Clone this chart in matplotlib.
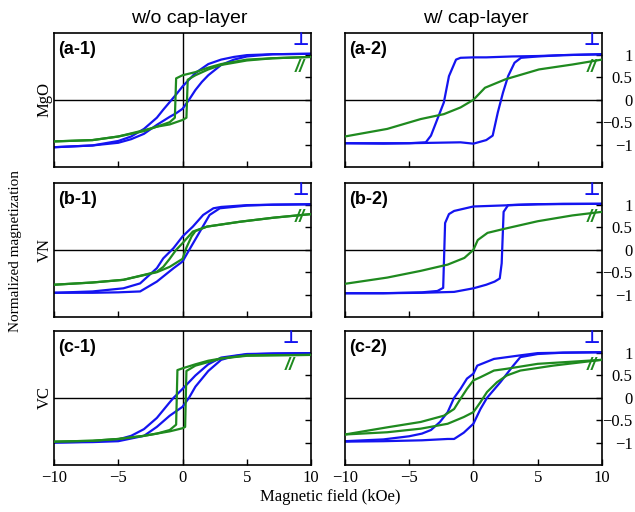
import matplotlib
matplotlib.use("Agg")
import matplotlib.pyplot as plt

BLUE = "#1414f0"
GREEN = "#1f8a1f"

# (a-1) MgO, w/o cap-layer
a1_blue_dn_h = [10, 7, 5, 4, 3, 2, 1, 0.5, 0, -0.5, -1, -1.5, -2, -3, -4, -5, -7, -10]
a1_blue_dn_m = [1.03, 1.02, 1.0, 0.96, 0.9, 0.8, 0.6, 0.45, 0.3, 0.12, -0.05, -0.22, -0.4, -0.65, -0.82, -0.92, -1.02, -1.06]
a1_blue_up_h = [-10, -7, -5, -4, -3, -2, -1, -0.5, 0, 0.5, 1, 1.5, 2, 3, 4, 5, 7, 10]
a1_blue_up_m = [-1.06, -1.02, -0.96, -0.88, -0.76, -0.56, -0.38, -0.3, -0.2, 0.0, 0.22, 0.4, 0.55, 0.78, 0.9, 0.97, 1.02, 1.03]
a1_green_dn_h = [10, 7, 5, 3, 2, 1, 0, -0.5, -0.6, -1, -2, -3, -5, -7, -10]
a1_green_dn_m = [0.96, 0.93, 0.9, 0.8, 0.72, 0.62, 0.55, 0.48, -0.4, -0.5, -0.6, -0.7, -0.82, -0.9, -0.93]
a1_green_up_h = [-10, -7, -5, -3, -2, -1, 0, 0.3, 0.4, 1, 2, 3, 5, 7, 10]
a1_green_up_m = [-0.93, -0.9, -0.82, -0.68, -0.6, -0.55, -0.45, -0.4, 0.45, 0.55, 0.68, 0.78, 0.88, 0.93, 0.96]

# (a-2) MgO, w/ cap-layer
a2_blue_dn_h = [10, 7, 5, 3, 1, 0, -1, -1.35, -1.9, -2.3, -2.8, -3.3, -3.7, -5, -7, -10]
a2_blue_dn_m = [1.02, 1.0, 0.98, 0.97, 0.95, 0.95, 0.94, 0.9, 0.53, -0.06, -0.43, -0.8, -0.95, -0.97, -0.97, -0.97]
a2_blue_up_h = [-10, -7, -5, -3, -1, 0, 1, 1.5, 1.9, 2.3, 2.7, 3.2, 3.7, 5, 7, 10]
a2_blue_up_m = [-0.97, -0.98, -0.97, -0.96, -0.95, -0.98, -0.9, -0.8, -0.28, 0.16, 0.53, 0.83, 0.94, 0.97, 1.0, 1.02]
a2_green_h = [-10, -6.7, -4.1, -2.3, -1, 0, 0.9, 2.5, 5.1, 7.7, 10]
a2_green_m = [-0.82, -0.65, -0.43, -0.32, -0.17, 0, 0.27, 0.46, 0.68, 0.79, 0.9]

# (b-1) VN, w/o cap-layer
b1_blue_dn_h = [10, 7, 5, 3, 2.4, 1.6, 0.8, 0, -0.7, -1.5, -2, -3.3, -4.6, -7, -10]
b1_blue_dn_m = [1.02, 1.01, 1.0, 0.96, 0.93, 0.78, 0.52, 0.3, 0.04, -0.19, -0.41, -0.75, -0.86, -0.93, -0.96]
b1_blue_up_h = [-10, -7, -5, -3.3, -2, -0.7, 0, 0.6, 1.35, 2.1, 2.9, 5, 7, 10]
b1_blue_up_m = [-0.96, -0.96, -0.95, -0.93, -0.71, -0.41, -0.26, 0.04, 0.41, 0.78, 0.93, 0.99, 1.01, 1.02]
b1_green_dn_h = [10, 7.1, 4.5, 1.9, 0.8, 0, -0.5, -1, -1.5, -2, -4.6, -7, -10]
b1_green_dn_m = [0.8, 0.72, 0.63, 0.52, 0.41, 0.15, 0.0, -0.2, -0.38, -0.49, -0.67, -0.73, -0.78]
b1_green_up_h = [-10, -7, -4.6, -2, -1.5, -1, 0, 0.3, 0.7, 1, 1.9, 4.5, 7.1, 10]
b1_green_up_m = [-0.78, -0.73, -0.67, -0.5, -0.44, -0.38, -0.2, 0.05, 0.3, 0.42, 0.52, 0.63, 0.72, 0.8]

# (b-2) VN, w/ cap-layer
b2_blue_dn_h = [10, 7, 5, 3, 1, 0, -1.5, -1.9, -2.2, -2.35, -2.8, -4, -7, -10]
b2_blue_dn_m = [1.03, 1.03, 1.02, 1.0, 0.98, 0.97, 0.87, 0.8, 0.6, -0.85, -0.92, -0.95, -0.97, -0.97]
b2_blue_up_h = [-10, -7, -4, -1.5, 0, 1, 1.65, 2.05, 2.2, 2.35, 2.7, 3.5, 5, 10]
b2_blue_up_m = [-0.97, -0.97, -0.96, -0.94, -0.86, -0.78, -0.71, -0.64, -0.3, 0.85, 1.0, 1.01, 1.02, 1.03]
b2_green_h = [-10, -6.7, -4.1, -2, -0.7, 0, 0.34, 1.1, 2.4, 5, 7.7, 10]
b2_green_m = [-0.76, -0.62, -0.47, -0.33, -0.18, 0.0, 0.22, 0.38, 0.47, 0.64, 0.77, 0.85]

# (c-1) VC, w/o cap-layer
c1_blue_dn_h = [10, 7, 5, 3, 2, 1, 0, -0.7, -1, -2, -3, -4, -5, -7, -10]
c1_blue_dn_m = [1.0, 0.99, 0.98, 0.9, 0.75, 0.5, 0.2, 0.0, -0.1, -0.45, -0.7, -0.85, -0.93, -0.98, -1.0]
c1_blue_up_h = [-10, -7, -5, -3, -2, -1, 0, 0.5, 1, 2, 3, 4, 5, 7, 10]
c1_blue_up_m = [-1.0, -0.99, -0.97, -0.85, -0.65, -0.4, -0.2, 0.0, 0.25, 0.6, 0.85, 0.93, 0.97, 0.99, 1.0]
c1_green_dn_h = [10, 5, 3, 2, 1, 0, -0.4, -0.5, -1, -2, -3, -5, -7, -10]
c1_green_dn_m = [0.96, 0.95, 0.88, 0.83, 0.75, 0.66, 0.62, -0.6, -0.72, -0.8, -0.85, -0.92, -0.96, -0.98]
c1_green_up_h = [-10, -7, -5, -3, -2, -1, 0, 0.2, 0.3, 1, 2, 3, 5, 7, 10]
c1_green_up_m = [-0.98, -0.96, -0.92, -0.85, -0.8, -0.75, -0.68, -0.65, 0.6, 0.72, 0.8, 0.88, 0.94, 0.95, 0.96]

# (c-2) VC, w/ cap-layer
c2_blue_dn_h = [10, 7, 5, 3.65, 1.6, 0.3, 0, -0.5, -1, -1.5, -2, -2.6, -3.3, -4, -5, -7, -10]
c2_blue_dn_m = [1.02, 1.01, 1.0, 0.95, 0.87, 0.72, 0.54, 0.43, 0.2, 0.0, -0.32, -0.54, -0.72, -0.8, -0.86, -0.93, -0.97]
c2_blue_up_h = [-10, -7, -4, -2, -1.5, -0.75, 0, 0.55, 1.06, 2.1, 3.1, 3.65, 5, 7, 10]
c2_blue_up_m = [-0.98, -0.97, -0.95, -0.92, -0.92, -0.78, -0.58, -0.25, 0.0, 0.35, 0.72, 0.91, 0.98, 1.01, 1.02]
c2_green_dn_h = [10, 5, 2.6, 1.6, 0.54, 0, -0.5, -1, -1.5, -2.3, -4.1, -6.7, -10]
c2_green_dn_m = [0.85, 0.76, 0.65, 0.61, 0.46, 0.39, 0.2, -0.02, -0.25, -0.4, -0.54, -0.66, -0.82]
c2_green_up_h = [-10, -6.7, -4.1, -2, -0.75, 0, 0.54, 1.06, 1.84, 2.6, 3.65, 6.2, 10]
c2_green_up_m = [-0.82, -0.77, -0.69, -0.58, -0.43, -0.32, -0.1, 0.13, 0.35, 0.5, 0.61, 0.72, 0.85]

panel_labels = ["(a-1)", "(a-2)", "(b-1)", "(b-2)", "(c-1)", "(c-2)"]
row_labels = ["MgO", "VN", "VC"]
col_titles = ["w/o cap-layer", "w/ cap-layer"]
x_ticks = [-10, -5, 0, 5, 10]
x_ticklabels = ["\u221210", "\u22125", "0", "5", "10"]
y_ticks = [-1, -0.5, 0, 0.5, 1]
y_ticklabels = ["\u22121", "\u22120.5", "0", "0.5", "1"]
marker_x = [0.961, 0.962, 0.961, 0.962, 0.922, 0.962]

panels = [
    [(a1_blue_dn_h, a1_blue_dn_m, BLUE), (a1_blue_up_h, a1_blue_up_m, BLUE),
     (a1_green_dn_h, a1_green_dn_m, GREEN), (a1_green_up_h, a1_green_up_m, GREEN)],
    [(a2_blue_dn_h, a2_blue_dn_m, BLUE), (a2_blue_up_h, a2_blue_up_m, BLUE),
     (a2_green_h, a2_green_m, GREEN)],
    [(b1_blue_dn_h, b1_blue_dn_m, BLUE), (b1_blue_up_h, b1_blue_up_m, BLUE),
     (b1_green_dn_h, b1_green_dn_m, GREEN), (b1_green_up_h, b1_green_up_m, GREEN)],
    [(b2_blue_dn_h, b2_blue_dn_m, BLUE), (b2_blue_up_h, b2_blue_up_m, BLUE),
     (b2_green_h, b2_green_m, GREEN)],
    [(c1_blue_dn_h, c1_blue_dn_m, BLUE), (c1_blue_up_h, c1_blue_up_m, BLUE),
     (c1_green_dn_h, c1_green_dn_m, GREEN), (c1_green_up_h, c1_green_up_m, GREEN)],
    [(c2_blue_dn_h, c2_blue_dn_m, BLUE), (c2_blue_up_h, c2_blue_up_m, BLUE),
     (c2_green_dn_h, c2_green_dn_m, GREEN), (c2_green_up_h, c2_green_up_m, GREEN)],
]

SERIF = "Liberation Serif"
SANS = "Liberation Sans"

fig = plt.figure(figsize=(6.35, 5.12), dpi=100)
lefts = [0.085, 0.543]
bottoms = [0.674, 0.381, 0.092]
w, h = 0.405, 0.262

for i, curves in enumerate(panels):
    row, col = divmod(i, 2)
    ax = fig.add_axes([lefts[col], bottoms[row], w, h])
    ax.axhline(0, color="black", lw=1.0, zorder=1)
    ax.axvline(0, color="black", lw=1.0, zorder=1)
    for hh, mm, c in curves:
        ax.plot(hh, mm, color=c, lw=1.6, zorder=3 if c == GREEN else 2)
    ax.set_xlim(-10, 10)
    ax.set_ylim(-1.5, 1.5)
    ax.set_xticks(x_ticks)
    ax.set_yticks(y_ticks)
    ax.tick_params(axis="x", direction="in", length=4, width=1, top=False,
                   bottom=True, labelbottom=(row == 2), labelsize=12, pad=4)
    ax.tick_params(axis="y", direction="in", length=4, width=1, left=False,
                   right=True, labelleft=False, labelright=(col == 1),
                   labelsize=12, pad=22)
    if col == 1:
        ax.set_yticklabels(y_ticklabels, family=SERIF, ha="right")
    if row == 2:
        ax.set_xticklabels(x_ticklabels, family=SERIF)
    for s in ax.spines.values():
        s.set_linewidth(1.2)
    ax.text(0.015, 0.94, panel_labels[i], transform=ax.transAxes, ha="left", va="top",
            fontsize=13, fontweight="bold", family=SANS)
    ax.text(marker_x[i], 0.945, "\u22a5", transform=ax.transAxes, ha="center", va="center",
            fontsize=13, fontweight="bold", color=BLUE, family="DejaVu Sans")
    ax.text(marker_x[i] - 0.004, 0.74, "//", transform=ax.transAxes, ha="center", va="center",
            fontsize=13, fontweight="bold", style="italic", color=GREEN, family=SANS)
    if col == 0:
        ax.set_ylabel(row_labels[row], family=SERIF, fontsize=12, labelpad=1)

fig.text(0.298, 0.963, col_titles[0], ha="center", va="center", fontsize=14, family=SANS)
fig.text(0.750, 0.963, col_titles[1], ha="center", va="center", fontsize=14, family=SANS)
fig.text(0.024, 0.51, "Normalized magnetization", rotation=90, ha="center", va="center",
         fontsize=11, family=SERIF)
fig.text(0.52, 0.03, "Magnetic field (kOe)", ha="center", va="center", fontsize=12, family=SERIF)

fig.savefig("out.png", dpi=100)
